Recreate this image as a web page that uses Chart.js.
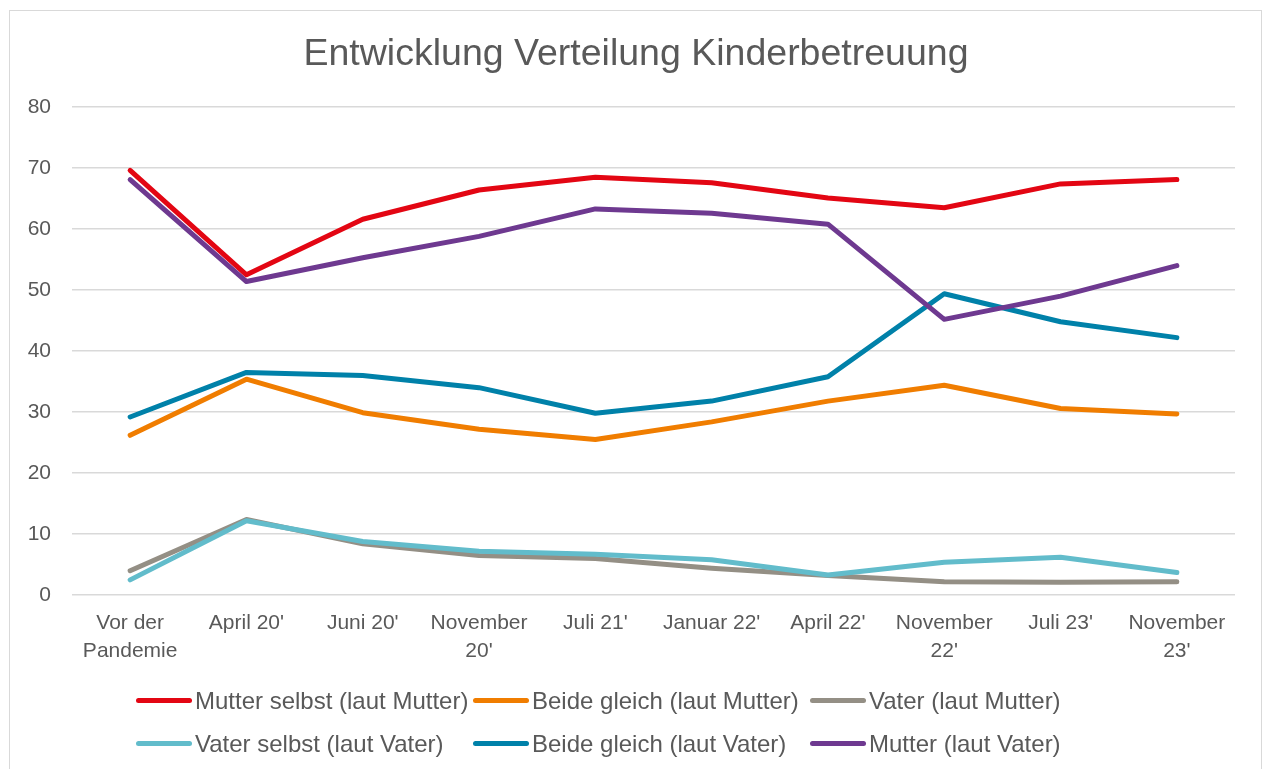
<!DOCTYPE html>
<html lang="de">
<head>
<meta charset="utf-8">
<title>Entwicklung Verteilung Kinderbetreuung</title>
<script src="https://cdn.jsdelivr.net/npm/chart.js@4/dist/chart.umd.min.js"></script>
<style>
  html, body { margin: 0; padding: 0; background: #fff; }
  body { width: 1265px; height: 769px; overflow: hidden; position: relative; font-family: 'Liberation Sans', Arial, sans-serif; }
  #rahmen { position: absolute; left: 9px; top: 10px; width: 1251px; height: 800px; border: 1px solid #d9d9d9; }
  #box { position: absolute; left: 0; top: 0; width: 1265px; height: 690px; }
  #legende { position: absolute; left: 136px; top: 686px; display: grid; grid-template-columns: 337px 337px 337px; row-gap: 14px; }
  .item { display: flex; align-items: center; height: 29px; color: #595959; font-size: 24px; white-space: nowrap; }
  .strich { width: 56px; height: 5px; border-radius: 3px; margin-right: 3px; }
</style>
</head>
<body>
<div id="rahmen"></div>
<div id="box"><canvas id="grafik"></canvas></div>
<div id="legende"></div>
<script>
// Zeitpunkte der Befragung
const zeitpunkte = [
  ['Vor der', 'Pandemie'], "April 20'", "Juni 20'", ['November', "20'"], "Juli 21'",
  "Januar 22'", "April 22'", ['November', "22'"], "Juli 23'", ['November', "23'"]
];

// Werte in Prozent
const mutterSelbst   = [69.6, 52.5, 61.6, 66.4, 68.5, 67.6, 65.1, 63.5, 67.4, 68.1];
const beideLautMutter = [26.2, 35.4, 29.9, 27.2, 25.5, 28.4, 31.8, 34.4, 30.6, 29.7];
const vaterLautMutter = [4.0, 12.4, 8.4, 6.5, 6.0, 4.4, 3.2, 2.2, 2.1, 2.2];
const vaterSelbst    = [2.5, 12.2, 8.8, 7.2, 6.7, 5.8, 3.3, 5.4, 6.2, 3.7];
const beideLautVater = [29.2, 36.5, 36.0, 34.0, 29.8, 31.8, 35.8, 49.4, 44.8, 42.2];
const mutterLautVater = [68.1, 51.4, 55.3, 58.8, 63.3, 62.6, 60.8, 45.2, 49.0, 54.0];

const achseMin = 0;
const achseMax = 80;
const achseSchritt = 10;

const grau = '#595959';
const schrift = "'Liberation Sans', Arial, sans-serif";

function serie(name, werte, farbe, reihenfolge) {
  return {
    label: name,
    data: werte,
    borderColor: farbe,
    backgroundColor: farbe,
    borderWidth: 5,
    pointRadius: 0,
    pointHoverRadius: 0,
    tension: 0,
    fill: false,
    borderCapStyle: 'round',
    borderJoinStyle: 'round',
    order: reihenfolge
  };
}

// y-Beschriftung darf links über den Achsenbereich hinausragen (sonst abgeschnitten)
const achseLinksFrei = {
  id: 'achseLinksFrei',
  afterLayout(chart) {
    chart.scales.y.left = 0;
  }
};

const canvas = document.getElementById('grafik');
canvas.width = 1265;
canvas.height = 687;

const chart = new Chart(canvas.getContext('2d'), {
  type: 'line',
  data: {
    labels: zeitpunkte,
    datasets: [
      serie('Mutter selbst (laut Mutter)', mutterSelbst, '#e30613', 6),
      serie('Beide gleich (laut Mutter)', beideLautMutter, '#f07d00', 5),
      serie('Vater (laut Mutter)', vaterLautMutter, '#948f85', 4),
      serie('Vater selbst (laut Vater)', vaterSelbst, '#62bccb', 3),
      serie('Beide gleich (laut Vater)', beideLautVater, '#0081a9', 2),
      serie('Mutter (laut Vater)', mutterLautVater, '#6e3990', 1)
    ]
  },
  options: {
    responsive: false,
    animation: false,
    layout: { padding: { left: 37, right: 30, top: 32, bottom: 8 } },
    plugins: {
      legend: { display: false },
      tooltip: { enabled: false },
      title: {
        display: true,
        text: 'Entwicklung Verteilung Kinderbetreuung',
        color: grau,
        font: { family: schrift, size: 37.5, weight: 'normal', lineHeight: 1.2 },
        padding: { top: 0, bottom: 30 }
      }
    },
    scales: {
      x: {
        offset: true,
        grid: { display: false, drawTicks: false },
        border: { display: false },
        afterFit: s => { s.paddingLeft = 0; s.paddingRight = 0; },
        ticks: {
          color: grau,
          font: { family: schrift, size: 21, lineHeight: 1.33 },
          padding: 14,
          maxRotation: 0,
          autoSkip: false
        }
      },
      y: {
        min: achseMin,
        max: achseMax,
        grid: { color: '#d9d9d9', lineWidth: 1.5, drawTicks: false },
        border: { display: false },
        afterFit: s => { s.width = 35; },
        ticks: {
          stepSize: achseSchritt,
          color: grau,
          font: { family: schrift, size: 21 },
          padding: 21
        }
      }
    }
  },
  plugins: [achseLinksFrei]
});

// Legende als Raster wie im Original
const legende = document.getElementById('legende');
chart.data.datasets.forEach(ds => {
  const item = document.createElement('div');
  item.className = 'item';
  const strich = document.createElement('span');
  strich.className = 'strich';
  strich.style.background = ds.borderColor;
  const text = document.createElement('span');
  text.textContent = ds.label;
  item.appendChild(strich);
  item.appendChild(text);
  legende.appendChild(item);
});
</script>
</body>
</html>
